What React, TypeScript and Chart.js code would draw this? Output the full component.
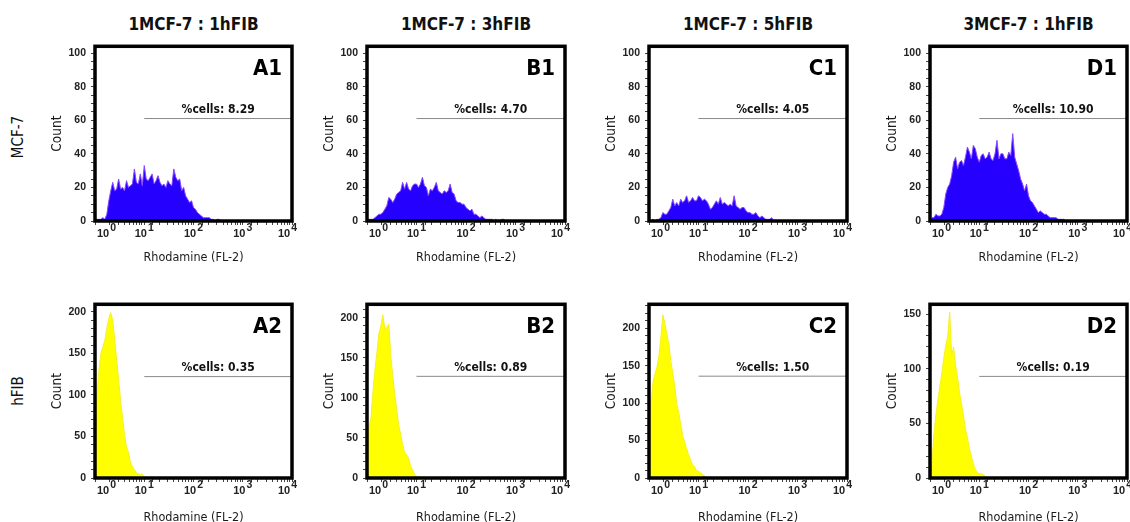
import React, { useEffect, useRef } from 'react';
import { Chart, registerables } from 'chart.js';

Chart.register(...registerables);

// ---------------- DATA ----------------
const columnTitles = ['1MCF-7 : 1hFIB', '1MCF-7 : 3hFIB', '1MCF-7 : 5hFIB', '3MCF-7 : 1hFIB'];
const rowLabels = ['MCF-7', 'hFIB'];
const panelLetters = ['A1', 'B1', 'C1', 'D1', 'A2', 'B2', 'C2', 'D2'];
const cellPercents = ['8.29', '4.70', '4.05', '10.90', '0.35', '0.89', '1.50', '0.19'];
const xTickValues = [1, 10, 100, 1000, 10000];
const xTickExponents = ['0', '1', '2', '3', '4'];
const xMin = 1;
const xMax = 10000;
const binStepLog = 0.04; // channel width, in decades, of the histogram bins
const gateFrom = 10;
const gateTo = 10000;
const yMaxes = [104, 104, 104, 104, 209, 217, 232, 159];
const yLabelSteps = [20, 20, 20, 20, 50, 50, 50, 50];
const yMinorSteps = [5, 5, 5, 5, 10, 10, 10, 10];
const gateLevels = [61, 61, 61, 61, 122, 127, 136, 93];

const a1Counts = [1, 1, 1, 1, 2, 1, 4, 12, 18, 23, 18, 19, 25, 19, 20, 18, 24, 20, 21, 22, 31, 23, 22, 28, 21, 33, 25, 24, 26, 28, 22, 24, 27, 23, 21, 22, 20, 24, 22, 21, 31, 26, 24, 25, 18, 20, 15, 13, 11, 12, 8, 7, 5, 4, 3, 2, 2, 2, 2, 1, 1, 0, 1, 1, 0];
const b1Counts = [0, 1, 1, 1, 2, 3, 4, 4, 5, 7, 9, 14, 13, 11, 13, 16, 17, 18, 23, 19, 23, 19, 18, 21, 22, 22, 20, 22, 26, 21, 20, 15, 19, 18, 20, 23, 18, 17, 16, 18, 17, 18, 22, 17, 16, 12, 11, 11, 10, 10, 8, 7, 6, 7, 4, 4, 3, 2, 3, 2, 1, 1, 1, 1, 0, 1, 0, 0, 1, 1, 0];
const c1Counts = [0, 0, 1, 0, 1, 1, 2, 5, 4, 4, 6, 8, 13, 9, 11, 9, 13, 11, 12, 15, 11, 12, 14, 12, 12, 15, 14, 12, 13, 12, 10, 7, 8, 10, 12, 10, 14, 10, 11, 10, 9, 10, 9, 15, 9, 8, 7, 8, 8, 6, 5, 5, 4, 4, 5, 3, 2, 3, 2, 1, 1, 1, 2, 0];
const d1Counts = [0, 2, 2, 4, 3, 3, 4, 8, 16, 20, 22, 27, 35, 38, 31, 35, 36, 33, 38, 44, 41, 37, 45, 43, 38, 35, 39, 40, 37, 38, 41, 37, 36, 40, 48, 37, 40, 40, 37, 37, 41, 39, 52, 38, 34, 30, 25, 22, 18, 22, 15, 12, 11, 9, 7, 5, 6, 5, 4, 4, 3, 2, 2, 2, 2, 1, 1, 1, 1, 0];
const a2Counts = [85, 100, 130, 150, 158, 166, 180, 192, 199, 190, 166, 142, 118, 93, 72, 52, 37, 31, 19, 14, 10, 6, 5, 4, 5, 1, 1, 0];
const b2Counts = [60, 64, 75, 108, 135, 157, 180, 190, 204, 186, 188, 192, 153, 128, 105, 86, 66, 55, 42, 32, 29, 25, 15, 10, 5, 2, 2, 2, 1, 0];
const c2Counts = [75, 100, 128, 139, 148, 163, 188, 218, 207, 192, 180, 157, 140, 123, 99, 88, 72, 57, 48, 39, 31, 24, 18, 15, 10, 9, 7, 5, 3, 1, 0];
const d2Counts = [0, 15, 40, 58, 72, 84, 96, 110, 121, 130, 152, 112, 120, 103, 92, 78, 68, 57, 45, 37, 27, 20, 13, 8, 5, 4, 4, 3, 2, 0];

const panelCounts = [a1Counts, b1Counts, c1Counts, d1Counts, a2Counts, b2Counts, c2Counts, d2Counts];

// ---------------- STYLE / LAYOUT ----------------
const FONT = '"DejaVu Sans Condensed", "DejaVu Sans", sans-serif';
const TICKFONT = '"Liberation Sans", Arial, sans-serif';
const blueFill = 'rgb(38, 0, 255)';
const blueEdge = 'rgb(140, 70, 255)';
const yellowFill = 'rgb(255, 255, 0)';
const yellowEdge = 'rgb(245, 240, 40)';

const colLefts = [95, 367, 649, 930];
const colWidths = [197, 198, 198, 197];
const rowTops = [45, 303];
const rowHeights = [176, 175];
const xTitlePadBottom = [6, 3];
const PAD_L = 60;
const PAD_T = 10;
const PAD_R = 8;
const PAD_B = 50;

const panelDecor = {
  id: 'panelDecor',
  afterDatasetsDraw(chart: any, _args: any, opts: any) {
    const { ctx, chartArea: a, scales } = chart;
    const xs = scales.x;
    const ys = scales.y;
    ctx.save();
    // %cells label
    const gx0 = xs.getPixelForValue(gateFrom);
    const gy = ys.getPixelForValue(opts.gate);
    ctx.fillStyle = '#111';
    ctx.font = `bold 12px ${FONT}`;
    ctx.textAlign = 'center';
    ctx.textBaseline = 'alphabetic';
    ctx.fillText(`%cells: ${opts.pct}`, (gx0 + a.right) / 2, gy - 5.5);
    // frame
    ctx.strokeStyle = '#000';
    ctx.lineWidth = 3.5;
    ctx.strokeRect(a.left, a.top, a.right - a.left, a.bottom - a.top);
    // panel letter
    ctx.fillStyle = '#000';
    ctx.font = `bold 22px ${FONT}`;
    ctx.textAlign = 'right';
    ctx.textBaseline = 'middle';
    ctx.fillText(opts.letter, a.right - 10, a.top + 23);
    // x tick labels 10^k
    ctx.fillStyle = '#222';
    ctx.textAlign = 'left';
    ctx.textBaseline = 'alphabetic';
    xTickValues.forEach((v, k) => {
      const px = xs.getPixelForValue(v);
      ctx.font = `bold 11px ${TICKFONT}`;
      const w1 = ctx.measureText('10').width;
      ctx.font = `bold 10.5px ${TICKFONT}`;
      const w2 = ctx.measureText(xTickExponents[k]).width;
      const total = w1 + 1 + w2;
      let sx = px - total / 2;
      if (k === 0) sx = px + 2;
      if (k === xTickValues.length - 1) sx = px + 5 - total;
      ctx.font = `bold 11px ${TICKFONT}`;
      ctx.fillText('10', sx, a.bottom + 16);
      ctx.font = `bold 10.5px ${TICKFONT}`;
      ctx.fillText(xTickExponents[k], sx + w1 + 1, a.bottom + 10);
    });
    ctx.restore();
  },
};

function HistPanel({ idx }: { idx: number }) {
  const ref = useRef<HTMLCanvasElement>(null);
  const col = idx % 4;
  const row = Math.floor(idx / 4);
  const areaLeft = colLefts[col];
  const areaW = colWidths[col];
  const areaTop = rowTops[row];
  const areaH = rowHeights[row];
  const w = PAD_L + areaW + PAD_R;
  const h = PAD_T + areaH + PAD_B;

  useEffect(() => {
    const counts = panelCounts[idx];
    const isBlue = row === 0;
    const labelStep = yLabelSteps[idx];
    const chart = new Chart(ref.current as HTMLCanvasElement, {
      type: 'line',
      data: {
        datasets: [
          {
            data: [
              { x: gateFrom, y: gateLevels[idx] },
              { x: gateTo, y: gateLevels[idx] },
            ],
            borderColor: '#8a8a8a',
            borderWidth: 1,
            pointRadius: 0,
            fill: false,
          },
          {
            data: counts.map((c, i) => ({ x: Math.pow(10, i * binStepLog), y: c })),
            borderColor: isBlue ? blueEdge : yellowEdge,
            backgroundColor: isBlue ? blueFill : yellowFill,
            borderWidth: 1,
            pointRadius: 0,
            tension: 0,
            fill: 'origin',
          },
        ],
      },
      options: {
        animation: false,
        responsive: false,
        maintainAspectRatio: false,
        events: [],
        layout: { padding: { left: 0, top: PAD_T, right: PAD_R, bottom: 0 } },
        plugins: {
          legend: { display: false },
          tooltip: { enabled: false },
          title: { display: false },
          panelDecor: { letter: panelLetters[idx], pct: cellPercents[idx], gate: gateLevels[idx] },
        } as any,
        scales: {
          x: {
            type: 'logarithmic',
            min: xMin,
            max: xMax,
            afterFit: (s: any) => {
              s.height = PAD_B;
            },
            ticks: { callback: () => '', autoSkip: false, maxRotation: 0 },
            grid: { drawOnChartArea: false, drawTicks: true, tickLength: 4, tickColor: '#444', tickWidth: 1 },
            border: { display: false },
            title: {
              display: true,
              text: 'Rhodamine (FL-2)',
              color: '#1a1a1a',
              font: { family: FONT, size: 12.5 },
              padding: { top: 0, bottom: xTitlePadBottom[row] },
            },
          },
          y: {
            type: 'linear',
            min: 0,
            max: yMaxes[idx],
            afterFit: (s: any) => {
              s.width = PAD_L;
            },
            ticks: {
              stepSize: yMinorSteps[idx],
              includeBounds: false,
              autoSkip: false,
              padding: 5,
              color: '#222',
              font: { family: TICKFONT, size: 10.5, weight: 'bold' },
              callback: (v: any) => (Number(v) % labelStep === 0 ? String(v) : ''),
            },
            grid: { drawOnChartArea: false, drawTicks: true, tickLength: 4, tickColor: '#444', tickWidth: 1 },
            border: { display: false },
            title: {
              display: true,
              text: 'Count',
              color: '#1a1a1a',
              font: { family: FONT, size: 13.5 },
              padding: { top: 14, bottom: 0 },
            },
          },
        } as any,
      },
      plugins: [panelDecor as any],
    });
    return () => chart.destroy();
  }, []);

  return (
    <canvas
      ref={ref}
      width={w}
      height={h}
      style={{ position: 'absolute', left: areaLeft - PAD_L, top: areaTop - PAD_T, width: w, height: h }}
    />
  );
}

export default function App() {
  const rowCenters = [137, 391];
  return (
    <div
      style={{
        position: 'fixed',
        left: 0,
        top: 0,
        width: 1130,
        height: 522,
        overflow: 'hidden',
        background: '#fff',
        color: '#111',
        fontFamily: FONT,
      }}
    >
      {columnTitles.map((t, i) => (
        <div
          key={t}
          style={{
            position: 'absolute',
            left: colLefts[i] + colWidths[i] / 2 - 120,
            width: 240,
            top: 14,
            textAlign: 'center',
            fontSize: 17,
            fontWeight: 'bold',
            lineHeight: '20px',
            whiteSpace: 'nowrap',
          }}
        >
          {t}
        </div>
      ))}
      {rowLabels.map((t, i) => (
        <div
          key={t}
          style={{
            position: 'absolute',
            left: 18 - 50,
            top: rowCenters[i] - 10,
            width: 100,
            height: 20,
            textAlign: 'center',
            fontSize: 15,
            lineHeight: '20px',
            transform: 'rotate(-90deg)',
            whiteSpace: 'nowrap',
          }}
        >
          {t}
        </div>
      ))}
      {panelLetters.map((l, i) => (
        <HistPanel key={l} idx={i} />
      ))}
    </div>
  );
}
